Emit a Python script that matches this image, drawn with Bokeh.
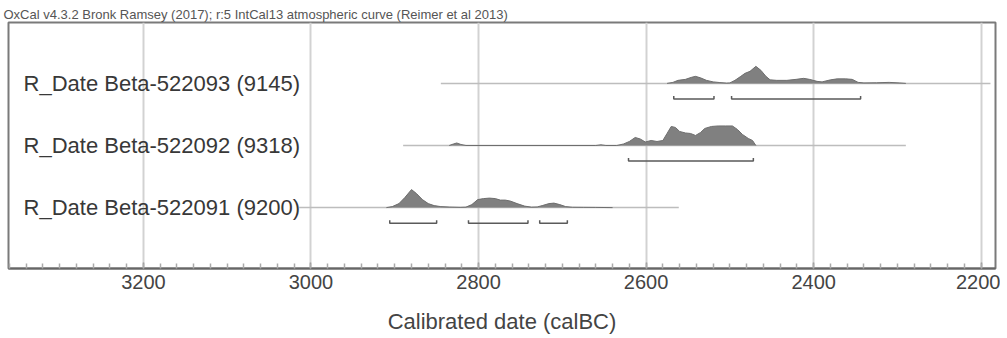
from bokeh.plotting import figure
from bokeh.models import Range1d, FixedTicker
from bokeh.embed import file_html
from bokeh.resources import INLINE
from bokeh.core.properties import value

# ---------------- data ----------------
title_text = "OxCal v4.3.2 Bronk Ramsey (2017); r:5 IntCal13 atmospheric curve (Reimer et al 2013)"
x_label = "Calibrated date (calBC)"
tick_values = [3200, 3000, 2800, 2600, 2400, 2200]

names = ["R_Date Beta-522093 (9145)", "R_Date Beta-522092 (9318)", "R_Date Beta-522091 (9200)"]
rows = [3, 2, 1]
line_start = [2845, 2890, 3014]
line_end = [2189, 2290, 2561]

years_093 = [2575, 2568, 2562, 2553, 2546, 2541, 2535, 2528, 2520, 2512, 2504, 2500, 2494,
             2487, 2482, 2476, 2469, 2463, 2457, 2452, 2444, 2432, 2421, 2412, 2405, 2396,
             2390, 2380, 2372, 2362, 2354, 2347, 2340, 2325, 2310, 2298, 2290]
prob_093 = [0, 1, 3, 4, 6, 7, 5.5, 3, 1.5, 0.8, 0.3, 0.5, 3,
            7, 10, 12, 17, 13, 7, 3.5, 3, 3, 4, 5, 4, 2,
            1.5, 3.5, 4.5, 4.5, 4, 1, 0.5, 0.6, 1, 0.5, 0]

years_092 = [2835, 2830, 2826, 2821, 2815, 2660, 2654, 2648, 2635, 2627, 2620, 2613, 2607,
             2601, 2594, 2587, 2580, 2575, 2570, 2565, 2560, 2553, 2547, 2541, 2535, 2530,
             2522, 2514, 2505, 2497, 2491, 2485, 2478, 2473, 2469]
prob_092 = [0, 1.5, 2.5, 1, 0, 0, 0.7, 0, 0, 1.5, 4, 8, 6.5,
            3.5, 5, 4, 5, 12, 19, 18, 14, 12.5, 12, 10, 13, 17,
            19, 19.5, 19.5, 19.5, 16, 11, 7, 5, 0]

years_091 = [2910, 2903, 2895, 2888, 2880, 2874, 2867, 2860, 2853, 2845, 2835, 2822, 2815,
             2808, 2801, 2794, 2787, 2780, 2774, 2768, 2762, 2754, 2745, 2737, 2730, 2724,
             2716, 2710, 2703, 2696, 2688, 2675, 2660, 2640]
prob_091 = [0, 1, 4, 10, 18, 14, 8, 4, 2, 1, 0.6, 0.3, 0.5,
            3, 8, 9, 9.5, 9, 7.5, 7.5, 6.5, 4, 1.5, 0.5, 0.7, 2,
            4, 4.5, 3, 1, 0.4, 0.3, 0.2, 0]

ranges_093 = [(2567, 2519), (2498, 2344)]
ranges_092 = [(2621, 2472)]
ranges_091 = [(2906, 2850), (2812, 2741), (2727, 2694)]

dens_years = [years_093, years_092, years_091]
dens_probs = [prob_093, prob_092, prob_091]
hpd_ranges = [ranges_093, ranges_092, ranges_091]

# ---------------- styling ----------------
FONT = "Liberation Sans"
PX_PER_ROW = 62.0
prob_scale = 1.0 / PX_PER_ROW
bracket_drop = 15.5 / PX_PER_ROW
bracket_tick = 3.0 / PX_PER_ROW

p = figure(width=1000, height=338, output_backend="svg", toolbar_location=None,
           x_range=Range1d(3361, 2183), y_range=Range1d(0.02, 3.98),
           min_border_left=8, min_border_right=5, min_border_top=22, min_border_bottom=70)

p.title.text = title_text
p.title.text_font = FONT
p.title.text_font_size = "13px"
p.title.text_font_style = "normal"
p.title.text_color = "#555555"
p.title.align = "left"
p.title.offset = -5
p.title.standoff = 2

p.outline_line_color = "#7a7a7a"
p.outline_line_width = 2
p.background_fill_color = "white"
p.border_fill_color = "white"

p.yaxis.visible = False
p.ygrid.visible = False
p.xgrid.ticker = FixedTicker(ticks=tick_values)
p.xgrid.grid_line_color = "#d2d2d2"
p.xgrid.grid_line_width = 2

xa = p.xaxis[0]
xa.ticker = FixedTicker(ticks=tick_values, minor_ticks=list(range(2180, 3380, 20)))
xa.axis_line_color = "#666666"
xa.axis_line_width = 2
xa.major_tick_in = 6
xa.major_tick_out = 0
xa.minor_tick_in = 5
xa.minor_tick_out = 0
xa.major_tick_line_color = "#999999"
xa.minor_tick_line_color = "#aaaaaa"
xa.major_tick_line_width = 1.5
xa.minor_tick_line_width = 1.5
xa.major_label_text_font = FONT
xa.major_label_text_font_size = "20px"
xa.major_label_text_color = "#444444"
xa.major_label_standoff = 6
xa.axis_label = x_label
xa.axis_label_text_font = FONT
xa.axis_label_text_font_size = "22px"
xa.axis_label_text_font_style = "normal"
xa.axis_label_text_color = "#444444"
xa.axis_label_standoff = 17

# baselines
p.segment(x0=line_start, y0=rows, x1=line_end, y1=rows, line_color="#bdbdbd", line_width=1.5)

# densities
for r, ys, ps in zip(rows, dens_years, dens_probs):
    top = [r + v * prob_scale for v in ps]
    p.varea(x=ys, y1=[r] * len(ys), y2=top, fill_color="#808080")
    p.line(x=ys, y=top, line_color="#6e6e6e", line_width=1)

# HPD brackets
xs, ysb = [], []
for r, rng in zip(rows, hpd_ranges):
    yb = r - bracket_drop
    for a, b in rng:
        xs.append([a, a, b, b])
        ysb.append([yb + bracket_tick, yb, yb, yb + bracket_tick])
p.multi_line(xs=xs, ys=ysb, line_color="#5a5a5a", line_width=1.5)

# row labels
label_x = [3343] * len(names)
p.text(x=label_x, y=rows, text=names, text_font=value(FONT), text_font_size="22px",
       text_color="#383838", text_baseline="middle", text_align="left")

open("out.html", "w").write(file_html(p, INLINE))
